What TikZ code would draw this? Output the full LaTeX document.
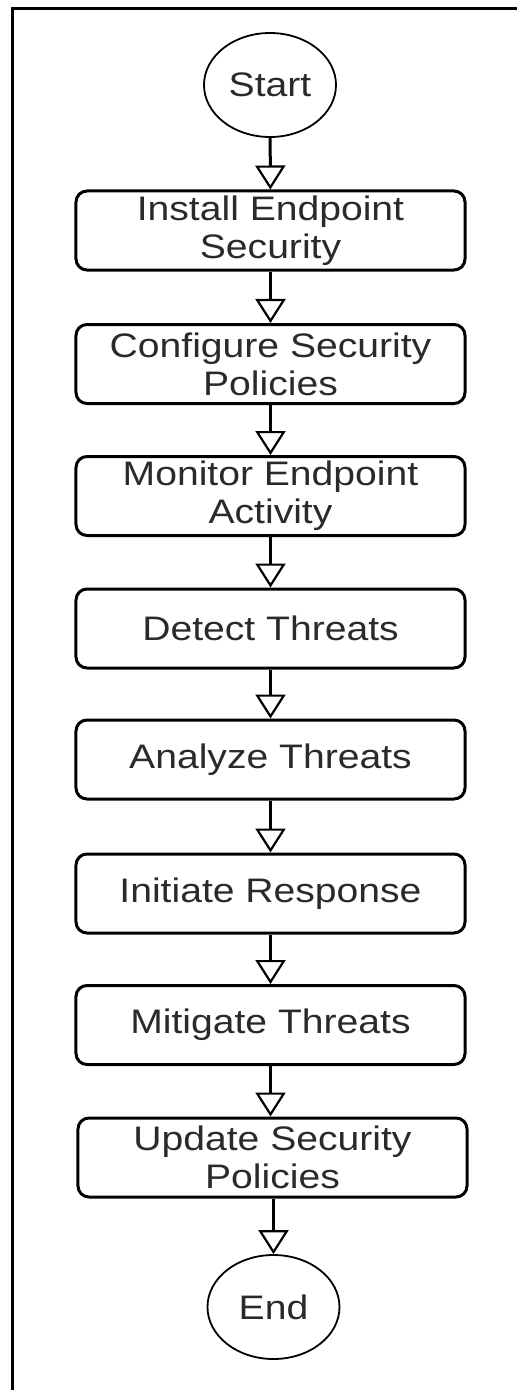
\documentclass[tikz,border=0pt]{standalone}
\usepackage{fontspec}
\setmainfont{Liberation Sans}[FakeStretch=1.15]
\usetikzlibrary{arrows.meta,shapes.geometric}
\definecolor{ink}{HTML}{2A2A2A}
\tikzset{
  stepbox/.style={draw, line width=3bp, rounded corners=11bp,
    minimum width=389bp, minimum height=79bp, inner sep=0pt,
    align=center, text=ink, font=\fontsize{34bp}{38bp}\selectfont},
  terminal/.style={draw, ellipse, line width=1.8bp,
    minimum width=132bp, minimum height=104bp, inner sep=0pt,
    text=ink, font=\fontsize{34bp}{38bp}\selectfont},
  flow/.style={line width=3bp,
    -{Triangle[open, length=24bp, width=30bp, line width=2.2bp]}}
}
\begin{document}
\begin{tikzpicture}[x=1bp,y=-1bp]
  \useasboundingbox (0,0) rectangle (517,1390);
  % frame edges
  \draw[line width=3bp] (12.5,1390) -- (12.5,8.5) -- (517,8.5);
  % nodes
  \node[terminal] (start) at (270,85) {Start};
  \node[stepbox] (install)   at (270.5,230.5) {Install Endpoint\\Security};
  \node[stepbox] (configure) at (270.5,364)   {Configure Security\\Policies};
  \node[stepbox] (monitor)   at (270.5,496)   {Monitor Endpoint\\Activity};
  \node[stepbox] (detect)    at (270.5,628.5) {Detect Threats};
  \node[stepbox] (analyze)   at (270.5,759.5) {Analyze Threats};
  \node[stepbox] (initiate)  at (270.5,893.5) {Initiate Response};
  \node[stepbox] (mitigate)  at (270.5,1025)  {Mitigate Threats};
  \node[stepbox] (update)    at (272.5,1157.5)  {Update Security\\Policies};
  \node[terminal] (end) at (273.5,1307) {End};
  % connectors
  \draw[flow] (start) -- (install);
  \draw[flow] (install) -- (configure);
  \draw[flow] (configure) -- (monitor);
  \draw[flow] (monitor) -- (detect);
  \draw[flow] (detect) -- (analyze);
  \draw[flow] (analyze) -- (initiate);
  \draw[flow] (initiate) -- (mitigate);
  \draw[flow] (mitigate.south) -- (mitigate.south |- update.north);
  \draw[flow] (update.south -| end.north) -- (end.north);
\end{tikzpicture}
\end{document}
